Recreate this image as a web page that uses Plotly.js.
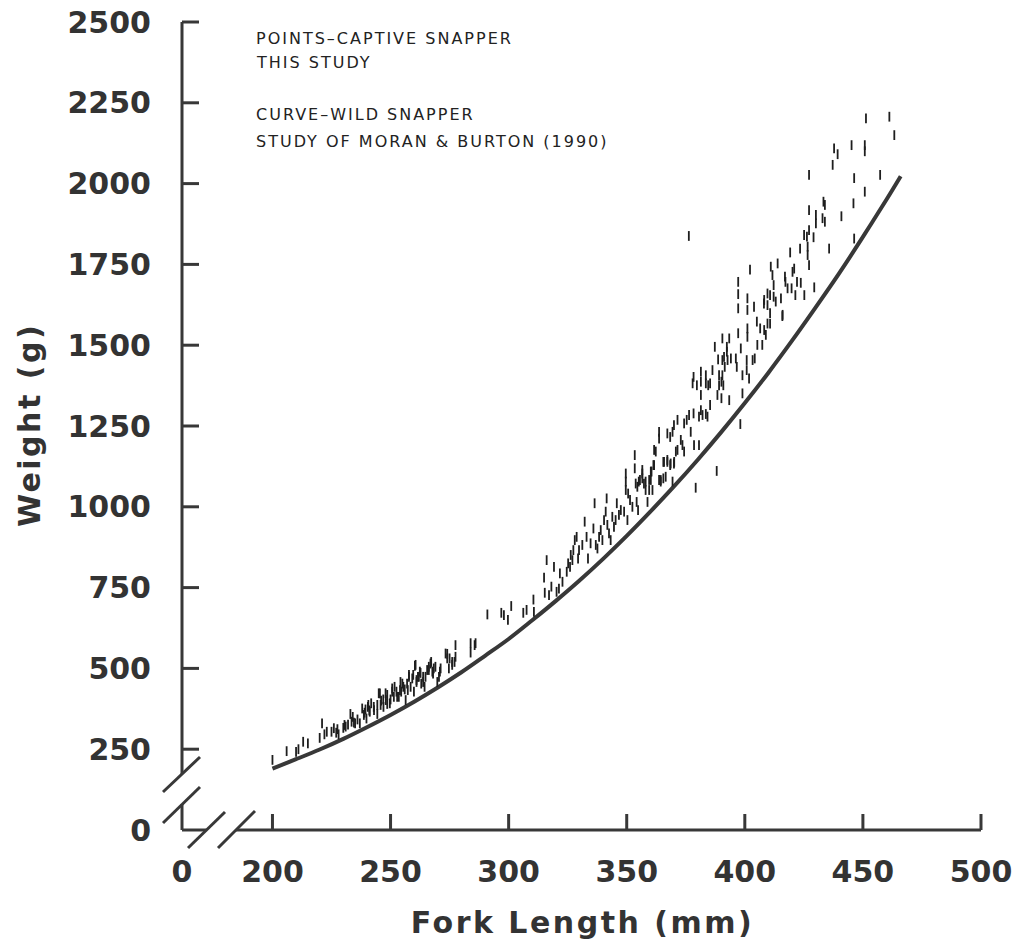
<!DOCTYPE html>
<html>
<head>
<meta charset="utf-8">
<script src="https://cdn.plot.ly/plotly-3.0.1.min.js"></script>
<style>
  html, body { margin: 0; padding: 0; background: #ffffff; }
  #chart { width: 1014px; height: 944px; }
  .xtitle, .ytitle { letter-spacing: 2.5px; }
  .annotation-text { letter-spacing: 2px; }
</style>
</head>
<body>
<div id="chart"></div>
<script>
// ---------------- DATA ----------------
// Captive snapper (this study): [fork length mm, weight g]
const captivePoints = [
  [200,217],[206,244],[210,242],[211,250],[213,273],[215,268],[220,285],[221,330],[222,296],[223,304],
  [225,304],[226,315],[227,301],[227.5,312],[228,296],[230,316],[230.5,325],[231,320],[232,326],[233,359],
  [233.5,335],[234,350],[234.5,332],[235,330],[236,342],[237,330],[238,376],[238.7,356],[239,363],[239.4,373],
  [239.8,345],[240.4,381],[240.6,387],[241,370],[241.2,366],[241.8,392],[243,371],[242.9,381],[244.4,359],[244.4,387],
  [245,423],[245.5,423],[245.8,387],[246,400],[246.9,404],[247,381],[247.9,423],[248,402],[248.6,390],[248.6,418],
  [249.7,392],[250,404],[250.7,428],[250.7,438],[251.4,412],[251.7,443],[252.5,428],[252.8,412],[253.5,412],[254,433],
  [254.2,458],[254.5,428],[255,453],[255.4,443],[256,435],[256.4,402],[257,453],[257.3,433],[257.8,474],[257.8,480],
  [258.5,443],[259.2,469],[259.6,480],[259.9,428],[260.3,508],[260.6,511],[261,464],[261,458],[261.6,474],[262,474],
  [262.4,490],[262.7,486],[263,453],[263.8,458],[263.8,474],[264.4,443],[264.8,474],[265.5,495],[266.2,495],[266.2,505],
  [266.9,515],[267.2,520],[267.7,490],[268,484],[268.3,500],[269,505],[269.8,458],[270.5,474],[270.9,490],[271.2,500],
  [273.3,546],[274,545],[274,531],[274.7,500],[275,531],[276.1,511],[276.1,520],[277.1,520],[277.5,536],[277.5,572],
  [283.9,578],[283.9,549],[285.6,572],[286,578],[291,667],[296.9,672],[298,665],[299.7,650],[301.1,693],[306.2,672],
  [307.6,681],[310.5,713],[310.7,675],[315,781],[315.3,734],[316.1,835],[317.1,727],[318.1,753],[319.2,814],[320.3,737],
  [321.3,747],[321.7,794],[322.8,768],[324.6,799],[325.2,825],[326,814],[326.3,851],[327,835],[327.4,866],[328,897],
  [328.8,907],[329.4,840],[329.8,866],[331.2,882],[332.2,954],[333,907],[333.6,840],[334.7,887],[335.9,933],[336.4,1011],
  [336.9,882],[337.6,871],[338.3,907],[339,928],[339.7,897],[340.4,959],[341.1,985],[341.5,1026],[341.8,944],[342.5,918],
  [343.2,897],[343.9,969],[344.6,938],[345.3,959],[345.8,1011],[346.7,975],[347.5,990],[348.9,985],[349.6,1052],[349.6,1103],
  [349.6,1078],[350.3,959],[350.6,1041],[351.4,1021],[352.4,1000],[353.4,1160],[353.4,1119],[353.8,1072],[354.2,1015],[354.5,1062],
  [354.8,990],[355.1,1078],[355.6,1083],[356.6,1103],[356.6,1114],[356.6,1088],[357.3,1072],[358,1052],[358,1078],[358.8,1015],
  [359.5,1083],[359.5,1052],[360.2,1109],[360.2,1083],[360.5,1109],[360.9,1052],[361.3,1129],[361.6,1176],[361.6,1129],[362.3,1171],
  [363.7,1083],[363.7,1232],[363.7,1211],[364.4,1078],[364.4,1083],[365.5,1139],[365.5,1088],[365.8,1139],[366.5,1093],[367.2,1145],
  [367.2,1227],[367.2,1139],[368.4,1129],[368.4,1216],[368.6,1134],[369.4,1078],[369.4,1232],[370,1134],[370,1253],[370.1,1139],
  [370.8,1171],[371.5,1269],[371.5,1176],[372.9,1207],[373.6,1191],[374.3,1258],[374.3,1171],[375.4,1269],[376.3,1838],[376.4,1284],
  [377.1,1232],[377.9,1382],[378.3,1402],[378.3,1289],[378.5,1191],[379.2,1059],[379.7,1376],[380.6,1279],[380.6,1191],[381.4,1418],
  [381.4,1387],[381.4,1346],[381.4,1299],[382.1,1284],[383.5,1382],[383.5,1407],[383.5,1287],[384.2,1279],[384.5,1376],[385.3,1382],
  [385.3,1315],[386.3,1423],[387.3,1495],[388.1,1111],[388.4,1346],[388.7,1456],[389.1,1376],[389.1,1407],[390.1,1387],[390.1,1336],
  [390.5,1521],[390.5,1454],[390.5,1407],[390.9,1376],[391.2,1464],[391.5,1433],[392.4,1480],[392.4,1495],[392.7,1454],[393.4,1521],
  [393.4,1330],[394.1,1459],[396.2,1459],[396.6,1433],[397.2,1696],[397.2,1658],[397.2,1614],[397.2,1537],[398.1,1256],[398.3,1490],
  [399,1407],[399,1351],[400.8,1454],[400.8,1423],[401.1,1645],[401.1,1609],[401.1,1552],[401.1,1526],[401.8,1397],[402.2,1734],
  [403.3,1454],[403.9,1619],[404.2,1459],[405.1,1573],[405.3,1501],[406.5,1552],[407.4,1501],[408.1,1629],[408.2,1640],[408.2,1547],
  [408.9,1532],[409.6,1660],[409.6,1624],[409.6,1567],[410.7,1655],[410.7,1599],[410.7,1567],[411,1743],[411.7,1717],[412.2,1650],
  [412.2,1686],[413.1,1635],[413.9,1753],[415.3,1645],[415.9,1590],[416,1594],[417,1712],[417.2,1696],[418.1,1676],[419.2,1787],
  [419.8,1676],[420.2,1727],[420.9,1737],[421.4,1655],[422.1,1696],[423.4,1799],[423.7,1693],[425.1,1841],[425.2,1655],[426.3,1836],
  [426.6,1805],[426.6,1779],[427.2,2027],[427.2,1918],[427.2,1856],[427.2,1748],[429.1,1834],[429.4,1679],[430.1,1903],[430.1,1877],
  [432.9,1893],[433.3,1944],[433.9,1934],[433.9,1882],[435.7,1799],[437.2,2058],[437.8,2109],[439.3,2091],[440.9,1899],[445.2,2119],
  [446,1939],[446.3,2017],[446.3,1830],[450.8,2119],[450.8,2100],[450.8,1975],[451.3,2202],[457.3,2027],[461.2,2207],[463.3,2150]
];

// Wild snapper curve (Moran & Burton 1990)
const wildLength = [200,210,220,230,240,250,260,270,280,290,300,310,320,330,340,350,360,370,380,390,400,410,420,430,440,450,460,466];
const wildWeight = [190,219,249,282,318,356,397,441,488,539,591,649,709,772,839,910,985,1063,1145,1231,1321,1415,1514,1617,1723,1835,1951,2023];

// Axis ticks (x axis is broken: its "0" sits at the corner)
const xTickVals = [161.7,200,250,300,350,400,450,500];
const xTickText = ['0','200','250','300','350','400','450','500'];
const yTickVals = [0,250,500,750,1000,1250,1500,1750,2000,2250,2500];
const yTickText = ['0','250','500','750','1000','1250','1500','1750','2000','2250','2500'];

const legendLines = ['POINTS\u2013CAPTIVE SNAPPER','THIS STUDY','CURVE\u2013WILD SNAPPER','STUDY OF MORAN & BURTON (1990)'];

// ---------------- LAYOUT ----------------
const W = 1014, H = 944;
const M = {l: 182, r: 31, t: 20, b: 114};
const PW = W - M.l - M.r, PH = H - M.t - M.b;
const pxX = p => (p - M.l) / PW;
const pxY = p => (H - M.b - p) / PH;
const ink = '#383838';
const xRange = [161.7, 500.85];
const yRange = [0, 2506.2];

function seg(x0, y0, x1, y1) {
  return {type: 'line', xref: 'paper', yref: 'paper',
    x0: pxX(x0), y0: pxY(y0), x1: pxX(x1), y1: pxY(y1),
    line: {color: ink, width: 3}};
}

// broken axis lines
const shapes = [
  seg(182, 22, 182, 774),
  seg(163, 792, 200, 757),
  seg(163, 823, 200, 787),
  seg(182, 804, 182, 830),
  seg(182, 830, 206.5, 830),
  seg(188, 848, 225, 812),
  seg(218, 848, 255, 811),
  seg(236, 830, 981, 830)
];
// inward tick marks, placed through the axis scales
xTickVals.slice(1).forEach(v => shapes.push({type: 'line', xref: 'x', yref: 'paper',
  x0: v, x1: v, y0: 0, y1: 16 / PH, line: {color: ink, width: 3}}));
yTickVals.slice(1).forEach(v => shapes.push({type: 'line', xref: 'paper', yref: 'y',
  x0: 0, x1: 17 / PW, y0: v, y1: v, line: {color: ink, width: 3}}));

const legendY = [38, 63, 115, 141];
const annotations = legendLines.map((t, i) => ({
  text: t, xref: 'paper', yref: 'paper', x: pxX(254), y: pxY(legendY[i]),
  xanchor: 'left', yanchor: 'middle', showarrow: false,
  font: {family: 'DejaVu Sans', size: 16, color: '#222'}
}));

const traces = [
  {
    type: 'scatter', mode: 'lines',
    x: wildLength, y: wildWeight,
    line: {color: ink, width: 4, shape: 'spline'},
    hoverinfo: 'skip', showlegend: false
  },
  {
    type: 'scatter', mode: 'markers',
    x: captivePoints.map(p => p[0]), y: captivePoints.map(p => p[1]),
    marker: {symbol: 'line-ns', size: 7, line: {color: '#1e1e1e', width: 1.8}},
    showlegend: false
  }
];

const tickFont = {family: 'DejaVu Sans', size: 30, color: '#333', weight: 700};
const titleFont = {family: 'DejaVu Sans', size: 30, color: '#333', weight: 700};

const layout = {
  width: W, height: H,
  margin: M,
  paper_bgcolor: '#ffffff', plot_bgcolor: '#ffffff',
  showlegend: false,
  xaxis: {
    range: xRange, tickmode: 'array', tickvals: xTickVals, ticktext: xTickText,
    ticks: 'outside', ticklen: 15, tickwidth: 1, tickcolor: 'rgba(0,0,0,0)',
    showline: false, showgrid: false, zeroline: false,
    tickfont: tickFont, automargin: false,
    title: {text: 'Fork Length (mm)', font: titleFont, standoff: 23}
  },
  yaxis: {
    range: yRange, tickmode: 'array', tickvals: yTickVals, ticktext: yTickText,
    ticks: 'outside', ticklen: 24, tickwidth: 1, tickcolor: 'rgba(0,0,0,0)',
    showline: false, showgrid: false, zeroline: false,
    tickfont: tickFont, automargin: false,
    title: {text: 'Weight (g)', font: titleFont, standoff: 18}
  },
  shapes: shapes,
  annotations: annotations
};

Plotly.newPlot('chart', traces, layout, {displayModeBar: false, staticPlot: true});
</script>
</body>
</html>
